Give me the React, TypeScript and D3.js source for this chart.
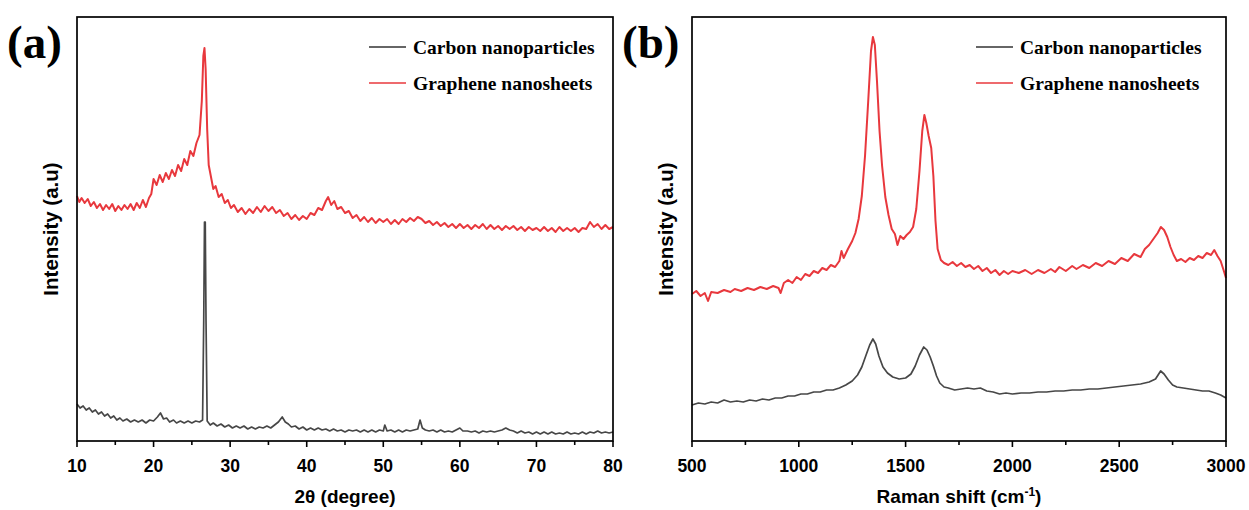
import React from 'react';
import * as d3 from 'd3';

// XRD, 2θ (degree) vs intensity (a.u.)
const xrdGraphene: [number, number][] = [
  [10, 245], [10.3, 239], [10.6, 243], [11, 238], [11.4, 242], [11.8, 235], [12.2, 239], [12.6, 233],
  [13, 237], [13.4, 231], [13.8, 236], [14.2, 232], [14.6, 237], [15, 230], [15.4, 235], [15.8, 231],
  [16.2, 236], [16.6, 232], [17, 237], [17.4, 231], [17.8, 238], [18.2, 233], [18.6, 241], [19, 234],
  [19.4, 243], [19.7, 247], [20, 262], [20.4, 256], [20.8, 266], [21.2, 259], [21.6, 268], [22, 262],
  [22.4, 271], [22.8, 265], [23.2, 276], [23.6, 270], [24, 282], [24.4, 276], [24.8, 290], [25.2, 285],
  [25.6, 298], [26, 306], [26.3, 340], [26.5, 385], [26.65, 393], [26.8, 372], [27, 312], [27.2, 276],
  [27.5, 264], [27.8, 252], [28.1, 255], [28.5, 244], [28.9, 247], [29.3, 238], [29.7, 241], [30.1, 233],
  [30.5, 236], [31, 229], [31.5, 233], [32, 227], [32.5, 232], [33, 228], [33.5, 234], [34, 229],
  [34.5, 235], [35, 230], [35.5, 234], [36, 228], [36.5, 231], [37, 225], [37.5, 228], [38, 222],
  [38.5, 226], [39, 221], [39.5, 225], [40, 222], [40.5, 228], [41, 226], [41.5, 233], [42, 231],
  [42.5, 240], [42.8, 244], [43.2, 236], [43.6, 240], [44, 232], [44.5, 234], [45, 228], [45.5, 230],
  [46, 223], [46.5, 226], [47, 220], [47.5, 224], [48, 219], [48.5, 223], [49, 218], [49.5, 222],
  [50, 219], [50.5, 222], [51, 217], [51.5, 221], [52, 217], [52.5, 222], [53, 219], [53.5, 223],
  [54, 220], [54.5, 224], [55, 222], [55.5, 218], [56, 220], [56.5, 216], [57, 219], [57.5, 215],
  [58, 218], [58.5, 214], [59, 217], [59.5, 213], [60, 217], [60.5, 213], [61, 216], [61.5, 212],
  [62, 216], [62.5, 213], [63, 217], [63.5, 212], [64, 216], [64.5, 212], [65, 215], [65.5, 211],
  [66, 215], [66.5, 212], [67, 215], [67.5, 211], [68, 214], [68.5, 210], [69, 214], [69.5, 211],
  [70, 213], [70.5, 210], [71, 214], [71.5, 210], [72, 213], [72.5, 209], [73, 214], [73.5, 210],
  [74, 213], [74.5, 210], [75, 213], [75.5, 209], [76, 213], [76.5, 212], [77, 219], [77.5, 214],
  [78, 217], [78.5, 212], [79, 216], [79.5, 212], [80, 214],
];

const xrdCarbon: [number, number][] = [
  [10, 37], [10.4, 33], [10.8, 35], [11.2, 31], [11.6, 33], [12, 29], [12.4, 31], [12.8, 27],
  [13.2, 29], [13.6, 25], [14, 27], [14.4, 23], [14.8, 25], [15.2, 21], [15.6, 23], [16, 20],
  [16.5, 22], [17, 19], [17.5, 21], [18, 19], [18.5, 21], [19, 18], [19.5, 21], [20, 20],
  [20.5, 24], [20.9, 28], [21.3, 22], [21.7, 23], [22.1, 19], [22.6, 21], [23, 18], [23.5, 20],
  [24, 18], [24.5, 20], [25, 18], [25.5, 20], [26, 19], [26.4, 21], [26.55, 120], [26.65, 219],
  [26.75, 219], [26.85, 120], [27, 20], [27.4, 16], [27.8, 18], [28.3, 15], [28.8, 17], [29.3, 14],
  [29.8, 16], [30.3, 13], [30.8, 15], [31.3, 13], [31.8, 15], [32.3, 12], [32.8, 14], [33.3, 12],
  [33.8, 14], [34.3, 13], [34.8, 15], [35.3, 13], [35.8, 16], [36.3, 19], [36.8, 24], [37.2, 19],
  [37.6, 17], [38, 14], [38.5, 15], [39, 12], [39.5, 14], [40, 11], [40.5, 13], [41, 11],
  [41.5, 13], [42, 11], [42.5, 12], [43, 10], [43.5, 12], [44, 10], [44.5, 11], [45, 9],
  [45.5, 11], [46, 10], [46.5, 11], [47, 9], [47.5, 11], [48, 9], [48.5, 11], [49, 9],
  [49.5, 11], [50, 10], [50.2, 16], [50.5, 10], [51, 11], [51.5, 9], [52, 11], [52.5, 9],
  [53, 11], [53.5, 10], [54, 11], [54.5, 12], [54.8, 21], [55.1, 13], [55.5, 11], [56, 10],
  [56.5, 11], [57, 9], [57.5, 11], [58, 9], [58.5, 10], [59, 9], [59.5, 11], [60, 13],
  [60.4, 10], [61, 10], [61.5, 9], [62, 10], [62.5, 8], [63, 10], [63.5, 9], [64, 10],
  [64.5, 9], [65, 10], [65.5, 11], [66, 13], [66.5, 11], [67, 10], [67.5, 8], [68, 10],
  [68.5, 8], [69, 9], [69.5, 7], [70, 9], [70.5, 7], [71, 9], [71.5, 7], [72, 9],
  [72.5, 7], [73, 8], [73.5, 7], [74, 9], [74.5, 7], [75, 8], [75.5, 7], [76, 9],
  [76.5, 7], [77, 9], [77.5, 8], [78, 10], [78.5, 8], [79, 9], [79.5, 8], [80, 9],
];

// Raman, shift (cm-1) vs intensity (a.u.)
const ramanGraphene: [number, number][] = [
  [500, 147], [520, 150], [540, 145], [560, 148], [575, 140], [590, 149], [620, 148], [650, 151],
  [680, 149], [700, 152], [730, 150], [760, 153], [790, 151], [820, 154], [850, 152], [880, 155],
  [905, 153], [915, 148], [930, 158], [950, 161], [970, 158], [990, 164], [1010, 161], [1030, 167],
  [1050, 165], [1070, 170], [1090, 168], [1110, 173], [1130, 171], [1150, 176], [1170, 174], [1190, 180],
  [1200, 190], [1210, 183], [1230, 192], [1250, 200], [1265, 208], [1280, 222], [1295, 245], [1310, 285],
  [1325, 340], [1338, 390], [1347, 404], [1356, 396], [1366, 360], [1378, 310], [1390, 275], [1405, 244],
  [1420, 226], [1435, 212], [1450, 207], [1462, 196], [1475, 205], [1490, 202], [1505, 206], [1520, 209],
  [1535, 214], [1550, 232], [1565, 270], [1578, 310], [1588, 326], [1597, 318], [1608, 305], [1620, 293],
  [1630, 265], [1640, 220], [1650, 192], [1665, 181], [1680, 178], [1700, 176], [1720, 179], [1740, 175],
  [1760, 178], [1780, 174], [1800, 176], [1820, 172], [1840, 175], [1860, 170], [1880, 173], [1900, 168],
  [1920, 171], [1940, 166], [1960, 170], [1980, 167], [2000, 170], [2030, 168], [2060, 171], [2090, 167],
  [2120, 171], [2150, 168], [2180, 172], [2200, 169], [2220, 174], [2250, 170], [2280, 175], [2300, 172],
  [2330, 176], [2360, 173], [2390, 178], [2420, 175], [2450, 180], [2480, 177], [2510, 183], [2540, 180],
  [2570, 187], [2600, 184], [2620, 192], [2640, 196], [2660, 202], [2680, 208], [2695, 214], [2710, 211],
  [2725, 204], [2740, 194], [2755, 186], [2770, 180], [2790, 182], [2810, 179], [2830, 183], [2850, 181],
  [2870, 185], [2890, 183], [2910, 188], [2930, 186], [2945, 191], [2960, 185], [2975, 180], [2990, 170],
  [3000, 163],
];

const ramanCarbon: [number, number][] = [
  [500, 36], [530, 38], [560, 37], [590, 39], [620, 38], [650, 41], [680, 39], [710, 40],
  [740, 39], [770, 41], [800, 40], [830, 42], [860, 41], [890, 43], [920, 43], [950, 45],
  [980, 45], [1010, 47], [1040, 47], [1070, 49], [1100, 49], [1130, 51], [1160, 51], [1190, 53],
  [1220, 56], [1250, 60], [1275, 66], [1295, 74], [1315, 86], [1332, 96], [1347, 102], [1360, 97],
  [1375, 85], [1394, 74], [1415, 68], [1440, 64], [1470, 62], [1500, 63], [1525, 67], [1545, 75],
  [1565, 86], [1585, 94], [1600, 91], [1615, 84], [1630, 75], [1645, 65], [1660, 58], [1680, 54],
  [1700, 53], [1730, 51], [1760, 52], [1790, 53], [1820, 52], [1850, 53], [1880, 50], [1910, 49],
  [1940, 47], [1970, 48], [2000, 47], [2040, 48], [2080, 48], [2120, 49], [2160, 49], [2200, 50],
  [2240, 50], [2280, 51], [2320, 51], [2360, 52], [2400, 52], [2440, 53], [2480, 54], [2520, 55],
  [2560, 56], [2600, 57], [2640, 59], [2670, 62], [2694, 70], [2710, 67], [2730, 61], [2750, 56],
  [2770, 54], [2800, 53], [2830, 52], [2860, 51], [2890, 50], [2920, 50], [2950, 48], [2975, 46],
  [3000, 43],
];

const xrdTicks = [10, 20, 30, 40, 50, 60, 70, 80];
const ramanTicks = [500, 1000, 1500, 2000, 2500, 3000];
const legendLabels = ['Carbon nanoparticles', 'Graphene nanosheets'];

const RED = '#e8383d';
const GREY = '#474747';
const SANS = "'Liberation Sans', Arial, sans-serif";
const SERIF = "'Liberation Serif', 'Times New Roman', serif";

const top = 17;
const bottom = 441;

type PanelProps = {
  left: number;
  right: number;
  domain: [number, number];
  ticks: number[];
  carbon: [number, number][];
  graphene: [number, number][];
  tag: string;
  xTitle: React.ReactNode;
  legendX: number;
};

const Panel = ({ left, right, domain, ticks, carbon, graphene, tag, xTitle, legendX }: PanelProps) => {
  const x = d3.scaleLinear().domain(domain).range([left, right]);
  const y = d3.scaleLinear().domain([0, bottom - top]).range([bottom, top]);
  const line = d3.line<[number, number]>().x(d => x(d[0])).y(d => y(d[1]));
  const step = ticks[1] - ticks[0];
  const minor = ticks.slice(0, -1).map(t => t + step / 2);
  const mid = (left + right) / 2;

  return (
    <g>
      <text x={left - 70} y={58} fontFamily={SERIF} fontWeight="bold" fontSize={47}>{tag}</text>
      <path d={line(graphene) ?? ''} fill="none" stroke={RED} strokeWidth={2} strokeLinejoin="round" />
      <path d={line(carbon) ?? ''} fill="none" stroke={GREY} strokeWidth={1.7} strokeLinejoin="round" />
      <rect x={left} y={top} width={right - left} height={bottom - top} fill="none" stroke="#000" strokeWidth={1.7} />
      {ticks.map(t => (
        <g key={t}>
          <line x1={x(t)} x2={x(t)} y1={bottom} y2={bottom + 6} stroke="#000" strokeWidth={1.6} />
          <text x={x(t)} y={bottom + 31} textAnchor="middle" fontFamily={SANS} fontWeight="bold" fontSize={17.5}>{t}</text>
        </g>
      ))}
      {minor.map(t => (
        <line key={t} x1={x(t)} x2={x(t)} y1={bottom} y2={bottom + 4} stroke="#000" strokeWidth={1.6} />
      ))}
      <text x={mid} y={bottom + 62} textAnchor="middle" fontFamily={SANS} fontWeight="bold" fontSize={19}>{xTitle}</text>
      <text transform={`translate(${left - 19},${(top + bottom) / 2}) rotate(-90)`} textAnchor="middle" fontFamily={SANS} fontWeight="bold" fontSize={20.5}>Intensity (a.u)</text>
      {legendLabels.map((label, i) => (
        <g key={label}>
          <line x1={legendX} x2={legendX + 37} y1={47 + i * 36} y2={47 + i * 36} stroke={i === 0 ? '#333' : RED} strokeWidth={1.3} />
          <text x={legendX + 44} y={54 + i * 36} fontFamily={SERIF} fontWeight="bold" fontSize={19.5}>{label}</text>
        </g>
      ))}
    </g>
  );
};

export default function App() {
  return (
    <svg width={1249} height={510} style={{ position: 'absolute', left: 0, top: 0, background: '#fff' }}>
      <Panel left={77} right={613} domain={[10, 80]} ticks={xrdTicks} carbon={xrdCarbon} graphene={xrdGraphene}
        tag="(a)" xTitle={<>2θ (degree)</>} legendX={369} />
      <Panel left={692} right={1226} domain={[500, 3000]} ticks={ramanTicks} carbon={ramanCarbon} graphene={ramanGraphene}
        tag="(b)" xTitle={<>Raman shift (cm<tspan dy={-7} fontSize={12}>-1</tspan><tspan dy={7}>)</tspan></>} legendX={976} />
    </svg>
  );
}
